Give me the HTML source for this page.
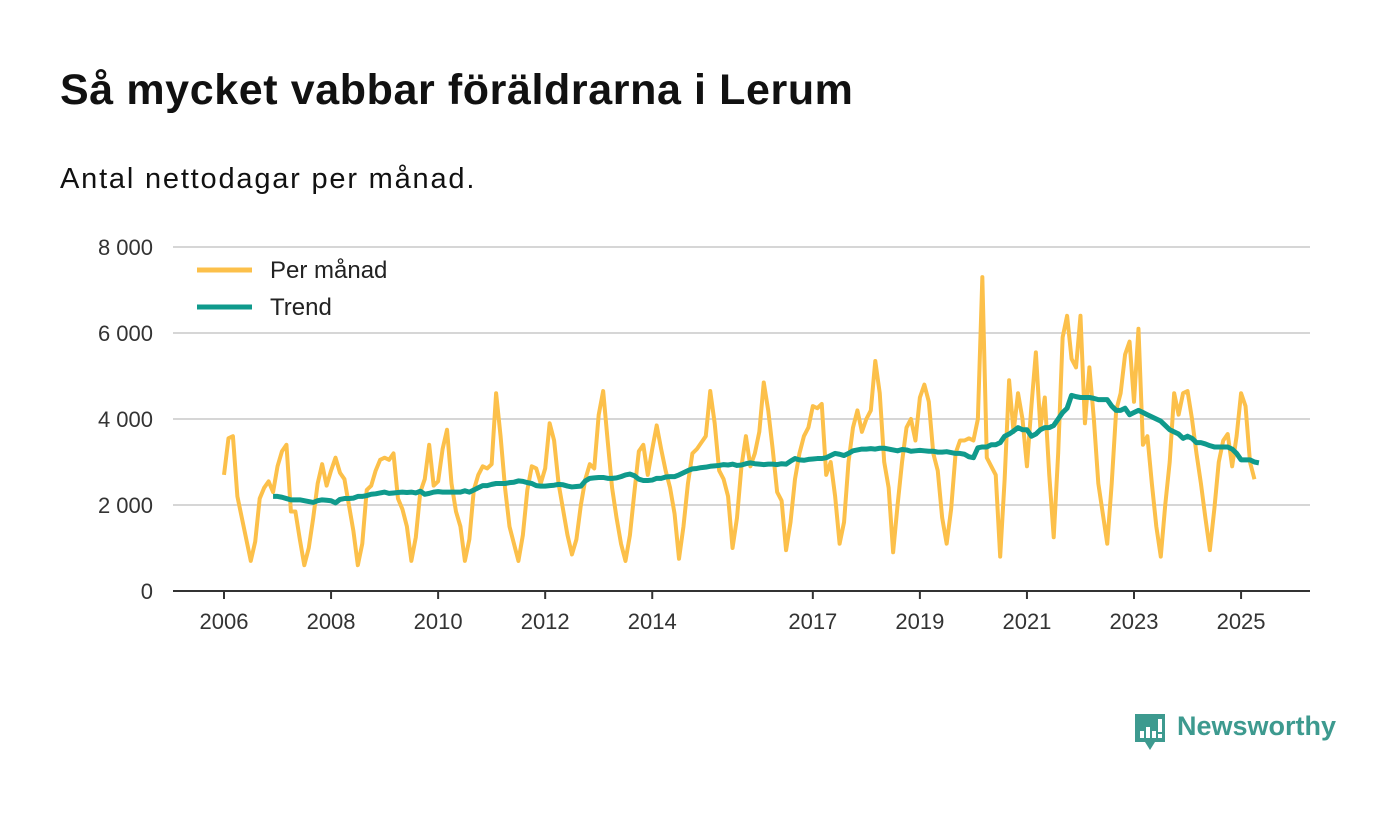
<!DOCTYPE html>
<html><head><meta charset="utf-8">
<style>
body{margin:0;background:#fff;width:1400px;height:813px;overflow:hidden;font-family:"Liberation Sans",sans-serif;}
#title{position:absolute;left:60px;top:66px;font-size:43px;font-weight:bold;color:#111;margin:0;letter-spacing:0.6px}
#sub{position:absolute;left:60px;top:163px;font-size:29px;color:#111;letter-spacing:1.8px}
svg{position:absolute;left:0;top:0}
#logo{position:absolute;left:1133px;top:712px;}
#logotext{position:absolute;left:1177px;top:711px;font-size:27px;font-weight:bold;color:#3d9a8f;}
</style></head><body>
<h1 id="title">Så mycket vabbar föräldrarna i Lerum</h1>
<div id="sub">Antal nettodagar per månad.</div>
<svg id="chart" width="1400" height="813"></svg>
<svg id="logo" width="34" height="42">
<path d="M2 2h30v28h-10l-5 8-5-8H2z" fill="#3d9a8f"/>
<rect x="7" y="19" width="4" height="7" fill="#fff"/><rect x="13" y="15" width="4" height="11" fill="#fff"/><rect x="19" y="19" width="4" height="7" fill="#fff"/><rect x="25" y="7" width="4" height="13" fill="#fff"/><rect x="25" y="22" width="4" height="4" fill="#fff"/>
</svg>
<div id="logotext">Newsworthy</div>
<script>
const yTicks=[0,2000,4000,6000,8000];
const yTickLabels=["0","2 000","4 000","6 000","8 000"];
const xTickYears=[2006,2008,2010,2012,2014,2017,2019,2021,2023,2025];
const startYear=2006;
const monthly=[
2700,3550,3600,2200,1700,1200,700,1150,2150,2400,2550,2300,
2900,3250,3400,1850,1850,1200,600,1000,1700,2500,2950,2450,
2800,3100,2750,2600,2000,1400,600,1100,2350,2450,2800,3050,
3100,3050,3200,2150,1900,1500,700,1250,2300,2600,3400,2450,
2550,3300,3750,2500,1850,1500,700,1200,2350,2700,2900,2850,
2950,4600,3600,2400,1500,1100,700,1300,2350,2900,2850,2500,
2850,3900,3500,2500,1900,1300,850,1200,2000,2600,2950,2850,
4100,4650,3500,2400,1700,1100,700,1300,2300,3250,3400,2700,
3300,3850,3300,2800,2400,1800,750,1500,2500,3200,3300,3450,
3600,4650,3900,2800,2600,2200,1000,1700,2900,3600,2900,3200,
3700,4850,4200,3300,2300,2100,950,1600,2600,3200,3600,3800,
4300,4250,4350,2700,3000,2200,1100,1600,3000,3800,4200,3700,
4000,4200,5350,4600,3000,2400,900,2000,3000,3800,4000,3500,
4500,4800,4400,3200,2800,1700,1100,1900,3200,3500,3500,3550,
3500,4000,7300,3100,2900,2700,800,2600,4900,3700,4600,4000,
2900,4300,5550,3800,4500,2700,1250,3200,5900,6400,5400,5200,
6400,3900,5200,4000,2500,1800,1100,2500,4200,4600,5500,5800,
4400,6100,3400,3600,2500,1500,800,2000,3000,4600,4100,4600,
4650,4000,3200,2500,1700,950,1900,3000,3500,3650,2900,3600,
4600,4300,3000,2600];
const trendStart=11;
const trend=[2200,
2200,2180,2150,2120,2120,2120,2100,2080,2060,2100,2120,2110,
2100,2050,2130,2150,2150,2160,2200,2200,2220,2250,2260,2280,
2300,2270,2280,2290,2300,2290,2300,2280,2320,2250,2270,2300,
2310,2300,2300,2300,2300,2300,2330,2300,2350,2400,2450,2450,
2480,2500,2500,2500,2520,2530,2560,2550,2520,2500,2450,2440,
2440,2450,2460,2480,2470,2440,2420,2430,2440,2560,2620,2630,
2640,2640,2620,2620,2630,2660,2700,2720,2680,2600,2570,2570,
2580,2620,2620,2650,2660,2660,2700,2750,2800,2840,2850,2870,
2880,2900,2910,2920,2940,2930,2950,2920,2930,2960,2980,2960,
2950,2940,2950,2950,2940,2960,2950,3020,3080,3050,3040,3060,
3070,3080,3080,3100,3150,3200,3180,3150,3200,3260,3280,3300,
3300,3310,3300,3320,3320,3300,3280,3260,3290,3280,3250,3260,
3270,3260,3250,3250,3230,3230,3240,3220,3200,3200,3180,3120,
3100,3330,3350,3350,3400,3400,3450,3600,3650,3720,3800,3750,
3750,3600,3650,3750,3800,3800,3850,4000,4150,4250,4550,4520,
4500,4500,4500,4480,4450,4450,4450,4300,4200,4200,4250,4100,
4150,4200,4150,4100,4050,4000,3950,3850,3750,3700,3650,3550,
3600,3550,3450,3450,3420,3380,3350,3350,3350,3350,3300,3200,
3050,3050,3050,3000,2980];

const NS="http://www.w3.org/2000/svg";
const svg=document.getElementById('chart');
const x0=224,pxPerYear=53.53,y0=591,pxPerUnit=344/8000;
const xScale=m=>x0+m*pxPerYear/12;
const yScale=v=>y0-v*pxPerUnit;
function mk(tag,attrs){const e=document.createElementNS(NS,tag);for(const k in attrs)e.setAttribute(k,attrs[k]);svg.appendChild(e);return e;}
yTicks.forEach((t,i)=>{
  if(t>0){const g=mk('line',{x1:173,x2:1310,y1:yScale(t),y2:yScale(t),stroke:'#d6d6d6','stroke-width':2});
  
  }
  const l=mk('text',{x:153,y:yScale(t)+8,'text-anchor':'end','font-size':22,fill:'#333','font-family':'Liberation Sans, sans-serif'});
  l.textContent=yTickLabels[i];
  
  
});
const ax=mk('line',{x1:173,x2:1310,y1:y0,y2:y0,stroke:'#333','stroke-width':2});


xTickYears.forEach(yr=>{
  const x=xScale((yr-startYear)*12);
  const tk=mk('line',{x1:x,x2:x,y1:y0,y2:y0+8,stroke:'#333','stroke-width':2});
  
  
  const l=mk('text',{x:x,y:629,'text-anchor':'middle','font-size':22,fill:'#333','font-family':'Liberation Sans, sans-serif'});
  l.textContent=yr;
  
  
});
const p1=mk('polyline',{points:monthly.map((v,i)=>xScale(i)+','+yScale(v)).join(' '),fill:'none',stroke:'#fcc04a','stroke-width':4,'stroke-linejoin':'round'});


const p2=mk('polyline',{points:trend.map((v,i)=>xScale(i+trendStart)+','+yScale(v)).join(' '),fill:'none',stroke:'#0f9a8c','stroke-width':5,'stroke-linejoin':'round'});


[["Per månad","#fcc04a",270],["Trend","#0f9a8c",307]].forEach(([t,c,y])=>{
  const s=mk('line',{x1:197,x2:252,y1:y,y2:y,stroke:c,'stroke-width':5});
  
  
  const l=mk('text',{x:270,y:y+8,'font-size':24,fill:'#222','font-family':'Liberation Sans, sans-serif'});
  l.textContent=t;
  
  
});
</script>
</body></html>
